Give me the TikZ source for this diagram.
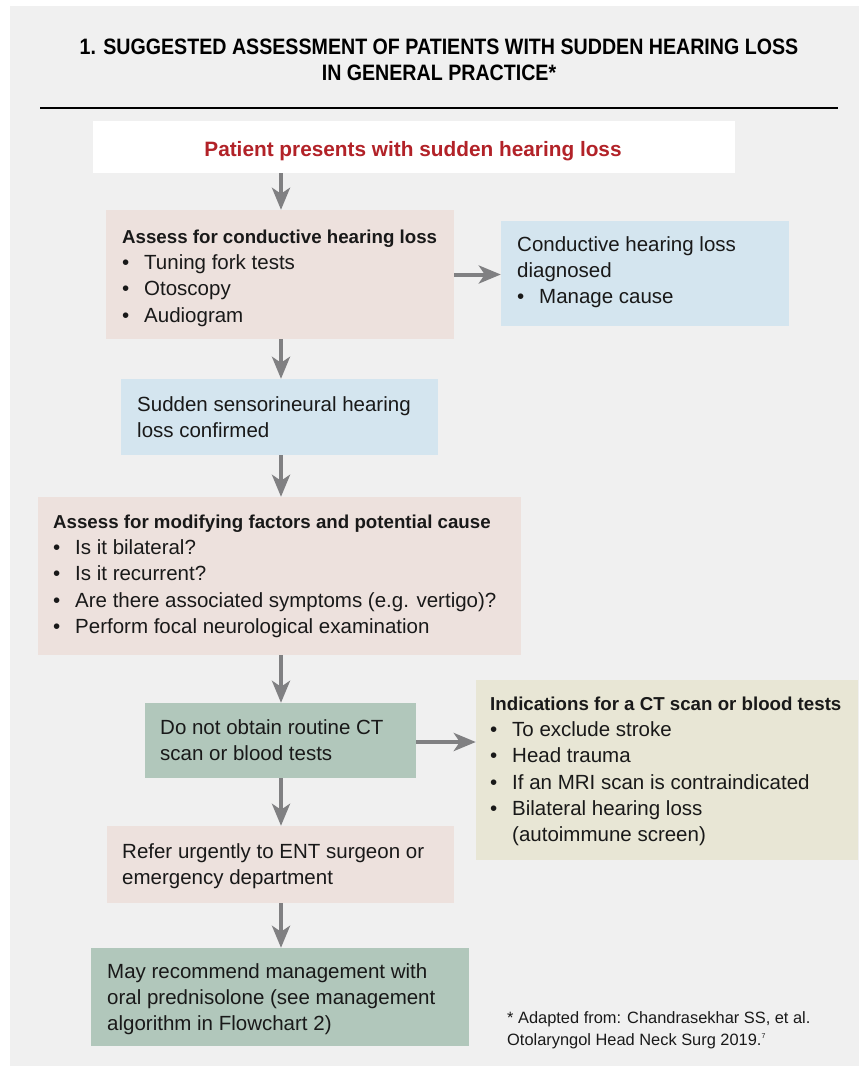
\documentclass[tikz,border=0pt]{standalone}
\usepackage{fontspec}
\setmainfont{Liberation Sans}
\newfontfamily\titlefont[FakeStretch=0.88]{Liberation Sans}
\usetikzlibrary{arrows.meta,fit}
\definecolor{panel}{RGB}{240,240,240}
\definecolor{pinkc}{RGB}{237,225,221}
\definecolor{bluec}{RGB}{212,229,239}
\definecolor{greenc}{RGB}{177,199,187}
\definecolor{beigec}{RGB}{232,230,213}
\definecolor{arrowgray}{RGB}{128,128,130}
\definecolor{redc}{RGB}{178,34,40}
\definecolor{ink}{RGB}{25,25,25}
\newcommand\ts{\rule{0pt}{16pt}}
\newcommand\bul{\makebox[22pt][l]{\textbullet}}
\newcommand\hd[1]{{\bfseries\fontsize{18.7}{26}\selectfont #1}}
\tikzset{
  box/.style={fill=#1, draw=none, inner sep=0pt},
  txt/.style={anchor=north west, inner sep=0pt, align=left, text=ink,
    font=\fontsize{20.5}{26.3}\selectfont},
  arr/.style={draw=arrowgray, line width=4pt,
    -{Stealth[length=22pt,width=18pt,inset=6pt]}},
}
\begin{document}
\begin{tikzpicture}[x=1pt,y=-1pt]
\useasboundingbox (0,0) rectangle (859,1066);
\fill[white] (0,0) rectangle (859,1066);
\fill[panel] (10,6) rectangle (859,1066);
% title
\node[inner sep=0pt, anchor=base, text=black, font=\titlefont\bfseries\fontsize{22.3}{26}\selectfont] (title1) at (439,54.5) {1. SUGGESTED ASSESSMENT OF PATIENTS WITH SUDDEN HEARING LOSS};
\node[inner sep=0pt, anchor=base, text=black, font=\titlefont\bfseries\fontsize{22.3}{26}\selectfont] (title2) at (439,80) {IN GENERAL PRACTICE*};
\draw[black, line width=1.2pt] (40,108) -- (838,108);
% boxes
\node[box=white, fit={(93,121)(735,173)}] (b1) {};
\node[box=pinkc, fit={(106,210)(454,339)}] (b2) {};
\node[box=bluec, fit={(501,221)(789,326)}] (b3) {};
\node[box=bluec, fit={(121,379)(438,455)}] (b4) {};
\node[box=pinkc, fit={(38,497)(521,655)}] (b5) {};
\node[box=greenc, fit={(145,703)(416,778)}] (b6) {};
\node[box=beigec, fit={(476,680)(858,860)}] (b7) {};
\node[box=pinkc, fit={(107,826)(454,903)}] (b8) {};
\node[box=greenc, fit={(91,948)(469,1046)}] (b9) {};
% texts
\node[inner sep=0pt, anchor=base, text=redc, font=\bfseries\fontsize{20.8}{26}\selectfont] (t1) at (413,156) {Patient presents with sudden hearing loss};
\node[txt] (t2) at (122,227) {\ts\hd{Assess for conductive hearing loss}\\\bul Tuning fork tests\\\bul Otoscopy\\\bul Audiogram};
\node[txt] (t3) at (517,235) {\ts Conductive hearing loss\\diagnosed\\\bul Manage cause};
\node[txt] (t4) at (137,395) {\ts Sudden sensorineural hearing\\loss confirmed};
\node[txt] (t5) at (53,512) {\ts\hd{Assess for modifying factors and potential cause}\\\bul Is it bilateral?\\\bul Is it recurrent?\\\bul Are there associated symptoms (e.g. vertigo)?\\\bul Perform focal neurological examination};
\node[txt] (t6) at (160,718) {\ts Do not obtain routine CT\\scan or blood tests};
\node[txt] (t7) at (490,694) {\ts\hd{Indications for a CT scan or blood tests}\\\bul To exclude stroke\\\bul Head trauma\\\bul If an MRI scan is contraindicated\\\bul Bilateral hearing loss\\\hspace*{22pt}(autoimmune screen)};
\node[txt] (t8) at (122,842) {\ts Refer urgently to ENT surgeon or\\emergency department};
\node[txt] (t9) at (107,962) {\ts May recommend management with\\oral prednisolone (see management\\algorithm in Flowchart 2)};
\node[txt, font=\fontsize{16.4}{22}\selectfont] (fn) at (507,1007) {\ts * Adapted from: Chandrasekhar SS, et al.\\Otolaryngol Head Neck Surg 2019.\textsuperscript{\scriptsize 7}};
% connectors
\coordinate (spine) at (281,0);
\coordinate (a6) at ([yshift=-1.5pt]b6.east);
\draw[arr] (b1.south -| spine) -- (b2.north -| spine);
\draw[arr] (b2.south -| spine) -- (b4.north -| spine);
\draw[arr] (b4.south -| spine) -- (b5.north -| spine);
\draw[arr] (b5.south -| spine) -- (b6.north -| spine);
\draw[arr] (b6.south -| spine) -- (b8.north -| spine);
\draw[arr] (b8.south -| spine) -- (b9.north -| spine);
\draw[arr] (b2.east) -- (b3.west |- b2.east);
\draw[arr] (a6) -- (b7.west |- a6);
\end{tikzpicture}
\end{document}
